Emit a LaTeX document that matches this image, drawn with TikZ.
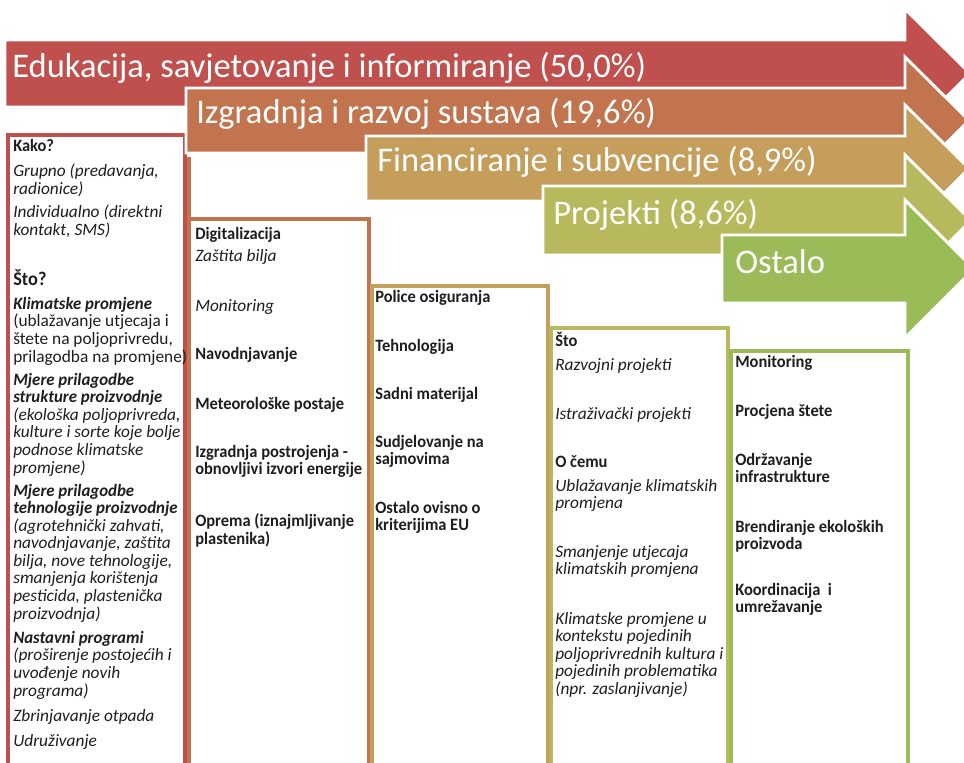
\documentclass[tikz,border=0pt]{standalone}
\usepackage{fontspec}
\setmainfont{Carlito}[BoldFeatures={FakeStretch=0.95},BoldItalicFeatures={FakeStretch=0.97}]
\definecolor{cA}{HTML}{C0504D}
\definecolor{cB}{HTML}{C2744F}
\definecolor{cC}{HTML}{C49E5A}
\definecolor{cD}{HTML}{B8B85C}
\definecolor{cE}{HTML}{9BBB59}
\definecolor{ink}{HTML}{1E1E1E}
\newcommand\mylines[1]{\begin{tabular}[t]{@{}l@{}}#1\end{tabular}}
\begin{document}
\begin{tikzpicture}[x=0.75pt,y=-0.75pt,
  arrowbody/.style={draw=white, line width=2.2, line join=miter},
  atext/.style={anchor=base west, inner sep=0, text=white, font=\fontsize{25.9}{30}\selectfont},
  btext/.style={anchor=base west, inner sep=0, text=ink, font=\fontsize{13}{13.125}\selectfont},
  boxline/.style={line width=2.4}]
\useasboundingbox (0,0) rectangle (964,763);
\fill[white] (0,0) rectangle (964,763);
\clip (0,0) rectangle (964,763);

% ---- boxes ----
\fill[white] (8,135) rectangle (185,775);
\draw[boxline, cA] (8,775) -- (8,135) -- (185,135) -- (185,775);

\fill[white] (189,219) rectangle (369,775);
\draw[boxline, cB] (189,157) -- (189,775);
\draw[boxline, cB] (189,219) -- (369,219) -- (369,775);

\fill[white] (372,286) rectangle (548,775);
\draw[boxline, cC] (372,775) -- (372,286) -- (548,286) -- (548,775);

\fill[white] (551,328) rectangle (728,775);
\draw[boxline, cD] (551,775) -- (551,328) -- (728,328) -- (728,775);

\fill[white] (731,351) rectangle (908,775);
\draw[boxline, cE] (731,775) -- (731,351) -- (908,351) -- (908,775);

% ---- arrows ----
\fill[cA, arrowbody] (5,40) -- (905,40) -- (905,9) -- (970,73.5) -- (905,138) -- (905,107) -- (5,107) -- cycle;
\fill[cB, arrowbody] (186,88) -- (905,88) -- (905,57) -- (969,120.5) -- (905,184) -- (905,153) -- (186,153) -- cycle;
\fill[cC, arrowbody] (366,136) -- (905,136) -- (905,105) -- (969,168.5) -- (905,232) -- (905,201) -- (366,201) -- cycle;
\fill[cD, arrowbody] (543,186) -- (905,186) -- (905,155) -- (971,220.5) -- (905,286) -- (905,255) -- (543,255) -- cycle;
\fill[cE, arrowbody] (722,235) -- (905,235) -- (905,200) -- (974,269) -- (905,338) -- (905,303) -- (722,303) -- cycle;

\node[atext] (a1) at (12,78) {Edukacija, savjetovanje i informiranje (50,0\%)};
\node[atext] (a2) at (196,124) {Izgradnja i razvoj sustava (19,6\%)};
\node[atext] (a3) at (377,172) {Financiranje i subvencije (8,9\%)};
\node[atext] (a4) at (553,224) {Projekti (8,6\%)};
\node[atext] (a5) at (735,273) {Ostalo};

% ---- box 1 ----
\node[btext] (k1) at (13,152) {\bfseries Kako?};
\node[btext] (k2) at (13,177) {\itshape\mylines{Grupno (predavanja,\\radionice)}};
\node[btext] (k3) at (13,218) {\itshape\mylines{Individualno (direktni\\kontakt, SMS)}};
\node[btext, font=\fontsize{14.5}{15}\selectfont\bfseries] (k4) at (13,285) {Što?};
\node[btext] (k5) at (13,309) {\mylines{{\bfseries\itshape Klimatske promjene}\\(ublažavanje utjecaja i\\štete na poljoprivredu,\\prilagodba na promjene)}};
\node[btext] (k6) at (13,385) {\itshape\mylines{{\bfseries Mjere prilagodbe}\\{\bfseries strukture proizvodnje}\\(ekološka poljoprivreda,\\kulture i sorte koje bolje\\podnose klimatske\\promjene)}};
\node[btext] (k7) at (13,496) {\itshape\mylines{{\bfseries Mjere prilagodbe}\\{\bfseries tehnologije proizvodnje}\\(agrotehnički zahvati,\\navodnjavanje, zaštita\\bilja, nove tehnologije,\\smanjenja korištenja\\pesticida, plastenička\\proizvodnja)}};
\node[btext] (k8) at (13,643) {\itshape\mylines{{\bfseries Nastavni programi}\\(proširenje postojećih i\\uvođenje novih\\programa)}};
\node[btext] (k9) at (13,721) {\itshape Zbrinjavanje otpada};
\node[btext] (k10) at (13,746) {\itshape Udruživanje};

% ---- box 2 ----
\node[btext] (d1) at (195,239) {\bfseries Digitalizacija};
\node[btext] (d2) at (195,262) {\itshape Zaštita bilja};
\node[btext] (d3) at (195,311) {\itshape Monitoring};
\node[btext] (d4) at (195,359) {\bfseries Navodnjavanje};
\node[btext] (d5) at (195,409) {\bfseries Meteorološke postaje};
\node[btext] (d6) at (195,457) {\bfseries\mylines{Izgradnja postrojenja -\\obnovljivi izvori energije}};
\node[btext] (d7) at (195,526) {\bfseries\mylines{Oprema (iznajmljivanje\\plastenika)}};

% ---- box 3 ----
\node[btext] (p1) at (375,302) {\bfseries Police osiguranja};
\node[btext] (p2) at (375,351) {\bfseries Tehnologija};
\node[btext] (p3) at (375,399) {\bfseries Sadni materijal};
\node[btext] (p4) at (375,447) {\bfseries\mylines{Sudjelovanje na\\sajmovima}};
\node[btext] (p5) at (375,513) {\bfseries\mylines{Ostalo ovisno o\\kriterijima EU}};

% ---- box 4 ----
\node[btext] (s1) at (555,346) {\bfseries Što};
\node[btext] (s2) at (555,370) {\itshape Razvojni projekti};
\node[btext] (s3) at (555,419) {\itshape Istraživački projekti};
\node[btext] (s4) at (555,467) {\bfseries O čemu};
\node[btext] (s5) at (555,491) {\itshape\mylines{Ublažavanje klimatskih\\promjena}};
\node[btext] (s6) at (555,557) {\itshape\mylines{Smanjenje utjecaja\\klimatskih promjena}};
\node[btext] (s7) at (555,624) {\itshape\mylines{Klimatske promjene u\\kontekstu pojedinih\\poljoprivrednih kultura i\\pojedinih problematika\\(npr. zaslanjivanje)}};

% ---- box 5 ----
\node[btext] (m1) at (735,367) {\bfseries Monitoring};
\node[btext] (m2) at (735,416) {\bfseries Procjena štete};
\node[btext] (m3) at (735,465) {\bfseries\mylines{Održavanje\\infrastrukture}};
\node[btext] (m4) at (735,532) {\bfseries\mylines{Brendiranje ekoloških\\proizvoda}};
\node[btext] (m5) at (735,595) {\bfseries\mylines{Koordinacija\ \ i\\umrežavanje}};
\end{tikzpicture}
\end{document}
